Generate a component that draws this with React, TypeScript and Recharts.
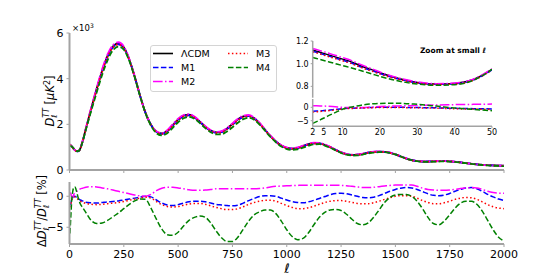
import React from "react";
import { LineChart, Line, XAxis, YAxis, Legend } from "recharts";

// multipole grid
const ELL = [
  2, 4, 6, 8, 10, 12, 15, 18, 20, 25, 30, 35, 40, 45, 50, 60,
  75, 100, 125, 150, 175, 200, 225, 250, 275, 300,
  325, 350, 375, 400, 425, 450, 475, 500, 525, 550,
  575, 600, 625, 650, 675, 700, 725, 750, 775, 800,
  825, 850, 875, 900, 925, 950, 975, 1000, 1025, 1050,
  1075, 1100, 1125, 1150, 1175, 1200, 1225, 1250, 1275, 1300,
  1325, 1350, 1375, 1400, 1425, 1450, 1475, 1500, 1525, 1550,
  1575, 1600, 1625, 1650, 1675, 1700, 1725, 1750, 1775, 1800,
  1825, 1850, 1875, 1900, 1925, 1950, 1975, 2000,
];

// LCDM D_l^TT in units of 10^3 muK^2
const LCDM = [
  1.12, 1.1, 1.08, 1.06, 1.04, 1.02, 0.98, 0.945, 0.92, 0.87, 0.835, 0.82, 0.825, 0.86, 0.95, 1.25,
  1.8, 2.7, 3.55, 4.35, 5.0, 5.42, 5.55, 5.38, 4.85, 4.1,
  3.25, 2.5, 1.98, 1.68, 1.6, 1.72, 1.97, 2.22, 2.38, 2.42,
  2.32, 2.12, 1.9, 1.73, 1.65, 1.68, 1.82, 2.02, 2.22, 2.35,
  2.38, 2.27, 2.04, 1.76, 1.48, 1.25, 1.07, 0.97, 0.94, 0.97,
  1.05, 1.13, 1.18, 1.17, 1.1, 1.0, 0.88, 0.77, 0.69, 0.66,
  0.67, 0.71, 0.76, 0.79, 0.8, 0.79, 0.75, 0.68, 0.59, 0.5,
  0.43, 0.39, 0.37, 0.37, 0.38, 0.39, 0.39, 0.38, 0.36, 0.33,
  0.3, 0.27, 0.245, 0.225, 0.21, 0.2, 0.19, 0.185,
];

// residuals Delta D / D in %
const RES_M1 = [
  -1.5, -1.3, -1.1, -0.8, -0.5, -0.35, -0.2, -0.05, 0.0, 0.0, -0.1, -0.2, -0.4, -0.5, -0.6, -0.75,
  -0.95, -1.05, -1.1, -1.0, -0.9, -0.85, -0.75, -0.6, -0.45, -0.3,
  -0.15, 0.0, -0.1, -0.6, -1.1, -1.4, -1.5, -1.35, -1.1, -0.9,
  -0.8, -0.8, -0.9, -1.1, -1.3, -1.4, -1.5, -1.55, -1.45, -1.1,
  -0.7, -0.35, -0.05, 0.1, 0.1, 0.0, -0.3, -0.6, -0.85, -1.0,
  -1.05, -0.9, -0.65, -0.35, -0.05, 0.25, 0.45, 0.5, 0.4, 0.2,
  0.0, -0.2, -0.25, -0.15, 0.1, 0.45, 0.8, 1.1, 1.3, 1.4,
  1.35, 1.1, 0.75, 0.4, 0.15, 0.1, 0.2, 0.45, 0.8, 1.1,
  1.35, 1.4, 1.2, 0.8, 0.3, -0.1, -0.45, -0.7,
];
const RES_M2 = [
  0.6, 0.5, 0.4, 0.2, 0.0, -0.1, -0.1, 0.1, 0.3, 0.5, 0.7, 0.85, 1.0, 1.1, 1.2, 1.3,
  1.45, 1.55, 1.5, 1.35, 1.2, 1.0, 0.8, 0.6, 0.4, 0.2,
  0.05, 0.0, 0.3, 0.9, 1.3, 1.45, 1.45, 1.35, 1.2, 1.05,
  0.95, 0.95, 1.0, 1.1, 1.2, 1.2, 1.2, 1.2, 1.2, 1.2,
  1.2, 1.2, 1.25, 1.35, 1.5, 1.6, 1.65, 1.7, 1.72, 1.75,
  1.77, 1.77, 1.77, 1.77, 1.77, 1.77, 1.77, 1.75, 1.7, 1.6,
  1.5, 1.42, 1.4, 1.45, 1.55, 1.65, 1.75, 1.8, 1.82, 1.82,
  1.8, 1.6, 1.3, 1.1, 1.0, 0.95, 0.95, 1.0, 1.1, 1.25,
  1.35, 1.4, 1.35, 1.1, 0.8, 0.6, 0.5, 0.48,
];
const RES_M3 = [
  -1.8, -1.55, -1.3, -1.0, -0.6, -0.45, -0.3, -0.15, -0.1, -0.1, -0.2, -0.3, -0.55, -0.65, -0.8, -0.95,
  -1.15, -1.3, -1.35, -1.3, -1.2, -1.1, -1.0, -0.85, -0.65, -0.45,
  -0.3, -0.15, -0.3, -0.85, -1.35, -1.65, -1.75, -1.65, -1.45, -1.25,
  -1.15, -1.15, -1.3, -1.55, -1.8, -2.0, -2.15, -2.15, -2.0, -1.7,
  -1.3, -1.0, -0.8, -0.65, -0.65, -0.8, -1.15, -1.5, -1.8, -2.0,
  -2.0, -1.85, -1.6, -1.3, -1.0, -0.8, -0.7, -0.7, -0.8, -1.0,
  -1.15, -1.2, -1.2, -1.05, -0.8, -0.5, -0.25, 0.0, 0.1, 0.1,
  0.0, -0.3, -0.7, -1.0, -1.2, -1.2, -1.05, -0.8, -0.5, -0.3,
  -0.2, -0.25, -0.5, -0.9, -1.35, -1.7, -1.9, -2.0,
];
const RES_M4 = [
  -6.0, -4.7, -3.3, -2.0, -0.7, 0.0, 0.8, 1.3, 1.45, 1.5, 1.1, 0.45, -0.25, -0.8, -1.25, -1.8,
  -2.6, -3.9, -4.4, -4.3, -3.9, -3.3, -2.7, -2.0, -1.3, -0.75,
  -0.45, -0.5, -1.9, -3.7, -5.3, -6.2, -6.3, -5.8, -4.8, -3.9,
  -3.4, -3.2, -3.4, -4.3, -5.6, -6.7, -7.3, -7.3, -6.6, -5.3,
  -4.0, -3.0, -2.5, -2.2, -2.2, -2.8, -4.0, -5.4, -6.5, -7.0,
  -6.8, -5.9, -4.6, -3.4, -2.6, -2.2, -2.15, -2.3, -2.9, -3.7,
  -4.4, -4.6, -4.3, -3.4, -2.2, -1.0, -0.2, 0.2, 0.3, 0.27,
  0.0, -0.8, -2.0, -3.4, -4.4, -4.6, -4.0, -3.0, -1.9, -1.1,
  -0.8, -0.8, -1.3, -2.4, -3.9, -5.4, -6.6, -7.2,
];

// inset (small l) spectra, 10^3 muK^2
const INSET_ELL = [2, 4, 6, 8, 10, 12, 15, 18, 20, 25, 30, 35, 40, 45, 50];
const INSET_LCDM = [1.12, 1.1, 1.08, 1.06, 1.04, 1.02, 0.98, 0.945, 0.92, 0.87, 0.835, 0.82, 0.825, 0.86, 0.95];
const INSET_M1 = [1.11, 1.09, 1.07, 1.05, 1.03, 1.01, 0.97, 0.937, 0.913, 0.865, 0.832, 0.818, 0.822, 0.856, 0.946];
const INSET_M2 = [1.135, 1.115, 1.095, 1.075, 1.053, 1.032, 0.99, 0.953, 0.927, 0.875, 0.84, 0.824, 0.829, 0.864, 0.955];
const INSET_M3 = [1.105, 1.085, 1.065, 1.045, 1.025, 1.005, 0.966, 0.932, 0.908, 0.861, 0.829, 0.816, 0.82, 0.854, 0.944];
const INSET_M4 = [1.055, 1.037, 1.019, 1.001, 0.983, 0.966, 0.938, 0.908, 0.888, 0.847, 0.82, 0.81, 0.815, 0.853, 0.95];

const X_TICKS = [0, 250, 500, 750, 1000, 1250, 1500, 1750, 2000];
const Y_TICKS = [0, 2, 4, 6];
const RES_TICKS = [-5, 0];
const INSET_X_TICKS = [2, 5, 10, 20, 30, 40, 50];
const INSET_Y_TICKS = [0.8, 1.0, 1.2];
const INSET_RES_TICKS = [-5, 0];

const SERIES = [
  { key: "lcdm", name: "\u039BCDM", color: "#000000", dash: undefined as string | undefined },
  { key: "m1", name: "M1", color: "#0000ff", dash: "5.5 2.4" },
  { key: "m2", name: "M2", color: "#ff00ff", dash: "9.6 2.4 1.5 2.4" },
  { key: "m3", name: "M3", color: "#ff0000", dash: "1.5 2.4" },
  { key: "m4", name: "M4", color: "#008000", dash: "5.5 2.4" },
];
const RES_LIST = [RES_M1, RES_M2, RES_M3, RES_M4];

const mainData = ELL.map((l, i) => {
  const row: Record<string, number> = { l, lcdm: LCDM[i] };
  RES_LIST.forEach((r, j) => {
    row["m" + (j + 1)] = LCDM[i] * (1 + r[i] / 100);
  });
  return row;
});
const resData = ELL.map((l, i) => ({ l, m1: RES_M1[i], m2: RES_M2[i], m3: RES_M3[i], m4: RES_M4[i] }));
const insetTopData = INSET_ELL.map((l, i) => ({
  l, lcdm: INSET_LCDM[i], m1: INSET_M1[i], m2: INSET_M2[i], m3: INSET_M3[i], m4: INSET_M4[i],
}));
const insetBotData = resData.filter((d) => d.l <= 50);

const FONT = "DejaVu Sans";
const SPINE = "#a3a3a3";
const minus = (v: number) => (v < 0 ? "\u2212" + Math.abs(v) : String(v));

const LegendBox = () => (
  <svg width={127} height={47} style={{ display: "block" }}>
    <rect x={0.5} y={0.5} width={126} height={46} rx={2.5} fill="#ffffff" fillOpacity={0.85} stroke="#d4d4d4" />
    {SERIES.map((s, i) => {
      const col = i < 3 ? 0 : 1;
      const row = i < 3 ? i : i - 3;
      const x0 = 3 + col * 75;
      const y = 8.5 + row * 14;
      return (
        <g key={s.key}>
          <line x1={x0} x2={x0 + 20} y1={y} y2={y} stroke={s.color} strokeWidth={1.6} strokeDasharray={s.dash} />
          <text x={x0 + 28} y={y + 3.5} fontSize={9.5} fontFamily={FONT} fill="#000">{s.name}</text>
        </g>
      );
    })}
  </svg>
);

const tickStyle = (size: number) => ({ fill: "#000", fontSize: size, fontFamily: FONT });

export default function App() {
  return (
    <div style={{ position: "absolute", left: 0, top: 0, width: 560, height: 280, background: "#fff", fontFamily: FONT }}>
      {/* main spectrum panel */}
      <div style={{ position: "absolute", left: 0, top: 0 }}>
        <LineChart width={560} height={181} data={mainData} margin={{ top: 33, right: 56, bottom: 6, left: 29.5 }}>
          <XAxis xAxisId="b" dataKey="l" type="number" domain={[0, 2000]} ticks={X_TICKS} interval={0} tickFormatter={() => ""}
            axisLine={{ stroke: SPINE, strokeWidth: 2 }} tickLine={{ stroke: SPINE }} tickSize={3} height={5} allowDataOverflow />
          <XAxis xAxisId="t" orientation="top" dataKey="l" type="number" domain={[0, 2000]} tick={false} tickLine={false}
            axisLine={{ stroke: SPINE, strokeWidth: 2 }} height={0} allowDataOverflow />
          <YAxis yAxisId="l" type="number" domain={[0, 6]} ticks={Y_TICKS} interval={0} width={40} tickSize={3} tickMargin={3}
            axisLine={{ stroke: SPINE, strokeWidth: 2 }} tickLine={{ stroke: SPINE }} tick={tickStyle(11)} allowDataOverflow />
          <YAxis yAxisId="r" orientation="right" type="number" domain={[0, 6]} tick={false} tickLine={false} width={0}
            axisLine={{ stroke: SPINE, strokeWidth: 2 }} allowDataOverflow />
          {SERIES.map((s) => (
            <Line key={s.key} xAxisId="b" yAxisId="l" type="monotone" dataKey={s.key} name={s.name} stroke={s.color}
              strokeWidth={1.8} strokeDasharray={s.dash} dot={false} activeDot={false} isAnimationActive={false} />
          ))}
          <Legend layout="vertical" align="center" verticalAlign="middle"
            wrapperStyle={{ position: "absolute", left: 150, top: 45, width: 127, height: 47, margin: 0 }}
            content={() => <LegendBox />} />
        </LineChart>
      </div>

      {/* residual panel */}
      <div style={{ position: "absolute", left: 0, top: 176 }}>
        <LineChart width={560} height={104} data={resData} margin={{ top: 6, right: 56, bottom: 16, left: 29.5 }}>
          <XAxis xAxisId="b" dataKey="l" type="number" domain={[0, 2000]} ticks={X_TICKS} interval={0} tick={tickStyle(11)}
            axisLine={{ stroke: SPINE, strokeWidth: 2 }} tickLine={{ stroke: SPINE }} tickSize={3} tickMargin={3} height={20} allowDataOverflow />
          <XAxis xAxisId="t" orientation="top" dataKey="l" type="number" domain={[0, 2000]} tick={false} tickLine={false}
            axisLine={{ stroke: SPINE, strokeWidth: 2 }} height={0} allowDataOverflow />
          <YAxis yAxisId="l" type="number" domain={[-7.7, 2.3]} ticks={RES_TICKS} interval={0} width={40} tickSize={3} tickMargin={3}
            tickFormatter={minus} axisLine={{ stroke: SPINE, strokeWidth: 2 }} tickLine={{ stroke: SPINE }} tick={tickStyle(11)} allowDataOverflow />
          <YAxis yAxisId="r" orientation="right" type="number" domain={[-7.7, 2.3]} tick={false} tickLine={false} width={0}
            axisLine={{ stroke: SPINE, strokeWidth: 2 }} allowDataOverflow />
          {SERIES.slice(1).map((s) => (
            <Line key={s.key} xAxisId="b" yAxisId="l" type="monotone" dataKey={s.key} name={s.name} stroke={s.color}
              strokeWidth={1.5} strokeDasharray={s.dash} dot={false} activeDot={false} isAnimationActive={false} />
          ))}
        </LineChart>
      </div>

      {/* inset: spectrum at small l */}
      <div style={{ position: "absolute", left: 0, top: 0 }}>
        <LineChart width={560} height={100} data={insetTopData} margin={{ top: 41, right: 68, bottom: 2.3, left: 282.7 }}>
          <XAxis xAxisId="b" dataKey="l" type="number" domain={[2, 50]} ticks={INSET_X_TICKS} tick={false} tickLine={false}
            axisLine={{ stroke: SPINE, strokeWidth: 1.5 }} height={0} allowDataOverflow />
          <XAxis xAxisId="t" orientation="top" dataKey="l" type="number" domain={[2, 50]} tick={false} tickLine={false}
            axisLine={{ stroke: SPINE, strokeWidth: 1.5 }} height={0} allowDataOverflow />
          <YAxis yAxisId="l" type="number" domain={[0.7, 1.2]} ticks={INSET_Y_TICKS} interval={0} width={30} tickSize={2} tickMargin={2}
            tickFormatter={(v: number) => v.toFixed(1)} axisLine={{ stroke: SPINE, strokeWidth: 1.5 }} tickLine={{ stroke: SPINE }}
            tick={tickStyle(8)} allowDataOverflow />
          <YAxis yAxisId="r" orientation="right" type="number" domain={[0.7, 1.2]} tick={false} tickLine={false} width={0}
            axisLine={{ stroke: SPINE, strokeWidth: 1.5 }} allowDataOverflow />
          {SERIES.map((s) => (
            <Line key={s.key} xAxisId="b" yAxisId="l" type="monotone" dataKey={s.key} name={s.name} stroke={s.color}
              strokeWidth={1.5} strokeDasharray={s.dash} dot={false} activeDot={false} isAnimationActive={false} />
          ))}
        </LineChart>
      </div>

      {/* inset: residuals at small l */}
      <div style={{ position: "absolute", left: 0, top: 0 }}>
        <LineChart width={560} height={145} data={insetBotData} margin={{ top: 99, right: 68, bottom: 4.7, left: 282.7 }}>
          <XAxis xAxisId="b" dataKey="l" type="number" domain={[2, 50]} ticks={INSET_X_TICKS} interval={0} tick={tickStyle(8)}
            axisLine={{ stroke: SPINE, strokeWidth: 1.5 }} tickLine={{ stroke: SPINE }} tickSize={2} tickMargin={1} height={14} allowDataOverflow />
          <XAxis xAxisId="t" orientation="top" dataKey="l" type="number" domain={[2, 50]} tick={false} tickLine={false}
            axisLine={{ stroke: SPINE, strokeWidth: 1.5 }} height={0} allowDataOverflow />
          <YAxis yAxisId="l" type="number" domain={[-7.1, 3.1]} ticks={INSET_RES_TICKS} interval={0} width={30} tickSize={2} tickMargin={2}
            tickFormatter={minus} axisLine={{ stroke: SPINE, strokeWidth: 1.5 }} tickLine={{ stroke: SPINE }}
            tick={tickStyle(8)} allowDataOverflow />
          <YAxis yAxisId="r" orientation="right" type="number" domain={[-7.1, 3.1]} tick={false} tickLine={false} width={0}
            axisLine={{ stroke: SPINE, strokeWidth: 1.5 }} allowDataOverflow />
          {SERIES.slice(1).map((s) => (
            <Line key={s.key} xAxisId="b" yAxisId="l" type="monotone" dataKey={s.key} name={s.name} stroke={s.color}
              strokeWidth={1.5} strokeDasharray={s.dash} dot={false} activeDot={false} isAnimationActive={false} />
          ))}
        </LineChart>
      </div>

      {/* labels */}
      <svg width={560} height={280} style={{ position: "absolute", left: 0, top: 0, pointerEvents: "none" }} fontFamily={FONT}>
        <text x={72} y={31} fontSize={8.5} fill="#000">
          {"\u00D710"}
          <tspan fontSize={6} dy={-3.5}>3</tspan>
        </text>
        <text transform="translate(54,101) rotate(-90)" textAnchor="middle" fontSize={11.5} fill="#000">
          <tspan fontStyle="italic">D</tspan>
          <tspan fontSize={8} dy={3} fontStyle="italic">{"\u2113"}</tspan>
          <tspan fontSize={8} dx={-3.5} dy={-8} fontStyle="italic">TT</tspan>
          <tspan dy={5}>{" ["}</tspan>
          <tspan fontStyle="italic">{"\u03BCK"}</tspan>
          <tspan fontSize={8} dy={-4.5}>2</tspan>
          <tspan dy={4.5}>]</tspan>
        </text>
        <text transform="translate(46,211) rotate(-90)" textAnchor="middle" fontSize={11.5} fill="#000">
          <tspan>{"\u0394"}</tspan>
          <tspan fontStyle="italic">D</tspan>
          <tspan fontSize={8} dy={3} fontStyle="italic">{"\u2113"}</tspan>
          <tspan fontSize={8} dx={-3.5} dy={-8} fontStyle="italic">TT</tspan>
          <tspan dy={5}>/</tspan>
          <tspan fontStyle="italic">D</tspan>
          <tspan fontSize={8} dy={3} fontStyle="italic">{"\u2113"}</tspan>
          <tspan fontSize={8} dx={-3.5} dy={-8} fontStyle="italic">TT</tspan>
          <tspan dy={5}>{" [%]"}</tspan>
        </text>
        <text x={287} y={273} textAnchor="middle" fontSize={13} fontStyle="italic" fill="#000">{"\u2113"}</text>
        <text x={486} y={53} textAnchor="end" fontSize={7.5} fontWeight="bold" fill="#000">
          {"Zoom at small "}
          <tspan fontStyle="italic">{"\u2113"}</tspan>
        </text>
      </svg>
    </div>
  );
}
